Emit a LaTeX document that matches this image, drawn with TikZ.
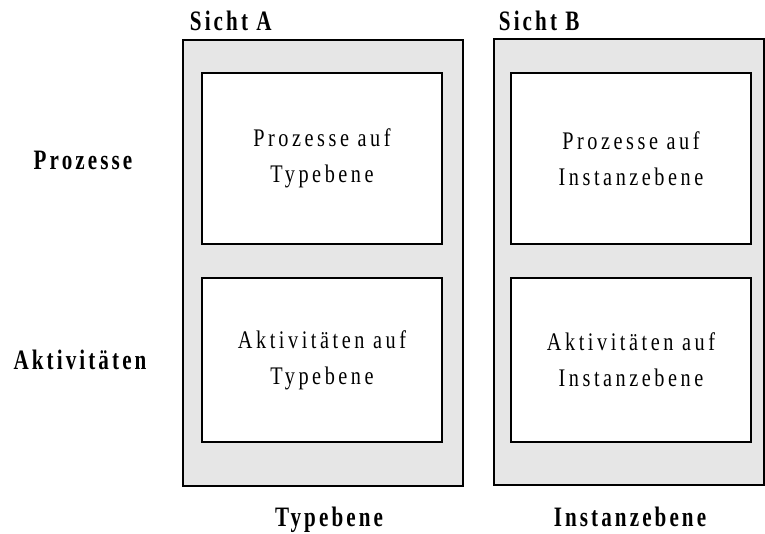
\documentclass[tikz,border=0pt]{standalone}
\usepackage{fontspec}
\setmainfont{Liberation Serif}
\newfontfamily\spaced[LetterSpace=14,FakeStretch=0.8]{Liberation Serif}
\newfontfamily\spacedbf[LetterSpace=11,FakeStretch=0.75]{Liberation Serif Bold}
\usepackage{tikz}
\definecolor{viewgray}{RGB}{230,230,230}
\tikzset{
  view/.style={draw=black,line width=1.1pt,fill=viewgray,minimum height=11.15cm},
  cell/.style={draw=black,line width=1.1pt,fill=white,minimum width=6cm,align=center,font=\fontsize{18}{25.5}\spaced},
  head/.style={font=\fontsize{20}{22}\spacedbf}
}
\begin{document}
\begin{tikzpicture}[x=0.025cm,y=-0.025cm]
    \useasboundingbox (0,0) rectangle (765,534);
    % Sichten
    \node[view,minimum width=7cm] (sichtA) at (323,263) {};
    \node[view,minimum width=6.75cm] (sichtB) at (629,262) {};
    \node[head,anchor=base west] (labA) at (185,30) {Sicht A};
    \node[head,anchor=base west] (labB) at (494,30) {Sicht B};
    % Zellen
    \node[cell,minimum height=4.27cm] (protyp) at (322,158.5) {Prozesse auf\\Typebene};
    \node[cell,minimum height=4.1cm] (akttyp) at (322,360) {Aktivit\"aten auf\\Typebene};
    \node[cell,minimum height=4.27cm] (proinst) at (631,158.5) {Prozesse auf\\Instanzebene};
    \node[cell,minimum height=4.1cm] (aktinst) at (631,360) {Aktivit\"aten auf\\Instanzebene};
    % Zeilen und Spalten
    \node[head] (rowpro) at (83,160) {Prozesse};
    \node[head] (rowakt) at (80,360) {Aktivit\"aten};
    \node[head,anchor=base] (coltyp) at (329,526) {Typebene};
    \node[head,anchor=base] (colinst) at (630,526) {Instanzebene};
\end{tikzpicture}
\end{document}
